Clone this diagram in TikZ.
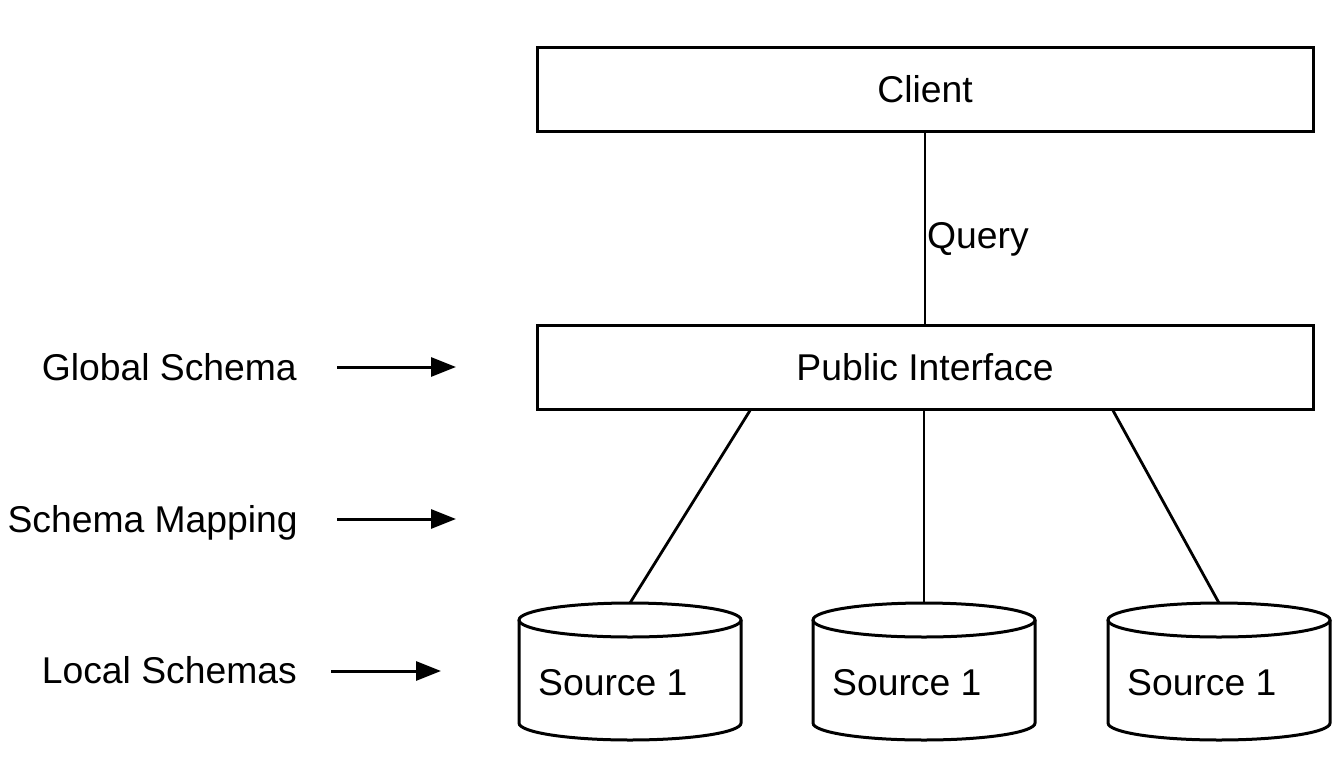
\documentclass[tikz,border=0pt]{standalone}
\usepackage{fontspec}
\setmainfont{Liberation Sans}
\usetikzlibrary{arrows.meta}
\begin{document}
\begin{tikzpicture}[x=1pt,y=-1pt,
  lbl/.style={inner sep=0pt,font=\fontsize{37.3}{44}\selectfont},
  box/.style={draw,line width=3pt,minimum width=776pt,minimum height=84pt,inner sep=0pt,font=\fontsize{37.3}{44}\selectfont},
  link/.style={line width=2.8pt},
  pointer/.style={line width=3pt,-{Triangle[length=25pt,width=19pt]}},
  can/.style={line width=3pt}]
\useasboundingbox (0,0) rectangle (1342,756);
\fill[white] (0,0) rectangle (1342,756);

\node[box] (client) at (925,89) {Client};
\node[box] (pub) at (925,367) {Public Interface};
\draw[link] (client) -- (pub);
\node[lbl,anchor=base west] (q) at (927,248) {Query};

\foreach \cx/\nm in {630/a,924/b,1219/c}{
  \draw[can] (\cx-111,620) -- (\cx-111,723)
    .. controls (\cx-111,732.4) and (\cx-61.3,740) .. (\cx,740)
    .. controls (\cx+61.3,740) and (\cx+111,732.4) .. (\cx+111,723) -- (\cx+111,620);
  \draw[can] (\cx,620) ellipse [x radius=111pt, y radius=17pt];
  \node[lbl,anchor=base west] (src\nm) at (\cx-92,695) {Source 1};
  \coordinate (top\nm) at (\cx,603);
}
\draw[link] ([xshift=-175pt]pub.south) -- (topa);
\draw[link] (pub.south -| topb) -- (topb);
\draw[link] ([xshift=188pt]pub.south) -- (topc);

\node[lbl,anchor=base east] (gs) at (297,380) {Global Schema};
\node[lbl,anchor=base east] (sm) at (298,532) {Schema Mapping};
\node[lbl,anchor=base east] (ls) at (297,683) {Local Schemas};
\coordinate (gsA) at (337,367); \coordinate (gsB) at (456,367);
\coordinate (smA) at (337,519); \coordinate (smB) at (456,519);
\coordinate (lsA) at (331,671); \coordinate (lsB) at (441,671);
\draw[pointer] (gsA) -- (gsB);
\draw[pointer] (smA) -- (smB);
\draw[pointer] (lsA) -- (lsB);
\end{tikzpicture}
\end{document}
